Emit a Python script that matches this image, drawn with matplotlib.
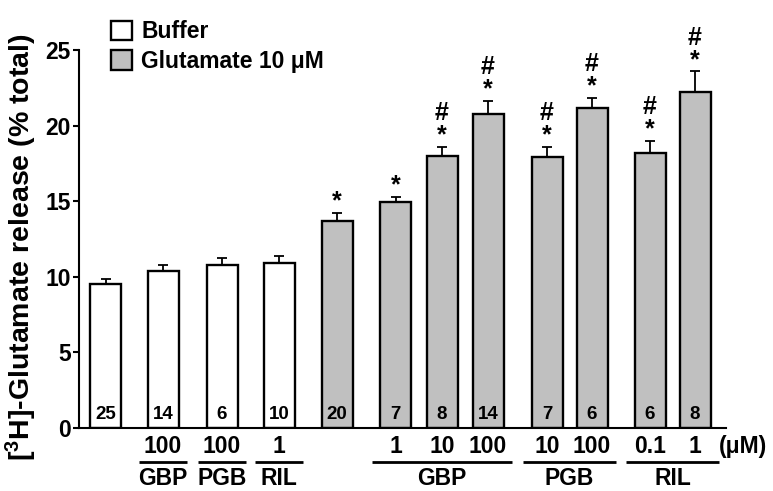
import matplotlib
matplotlib.use("Agg")
import matplotlib.pyplot as plt
from matplotlib.patches import Patch
import numpy as np

plt.rcParams['font.family'] = ['Liberation Sans', 'DejaVu Sans']
plt.rcParams['font.weight'] = 'bold'
plt.rcParams['mathtext.fontset'] = 'custom'
plt.rcParams['mathtext.rm'] = 'Liberation Sans:bold'
plt.rcParams['mathtext.bf'] = 'Liberation Sans:bold'

# ---- data ----
means = [9.55, 10.4, 10.8, 10.9, 13.7, 14.95, 18.0, 20.8, 17.95, 21.15, 18.2, 22.2]
sems = [0.3, 0.4, 0.45, 0.5, 0.55, 0.35, 0.6, 0.85, 0.65, 0.7, 0.8, 1.4]
counts = [25, 14, 6, 10, 20, 7, 8, 14, 7, 6, 6, 8]
glutamate = [False, False, False, False, True, True, True, True, True, True, True, True]
star = [False, False, False, False, True, True, True, True, True, True, True, True]
hash_mark = [False, False, False, False, False, False, True, True, True, True, True, True]
conc_labels = ['', '100', '100', '1', '', '1', '10', '100', '10', '100', '0.1', '1']
drug_groups = [('GBP', [1]), ('PGB', [2]), ('RIL', [3]),
               ('GBP', [5, 6, 7]), ('PGB', [8, 9]), ('RIL', [10, 11])]
legend_labels = ['Buffer', 'Glutamate 10 μM']
ylabel = r'[$\mathbf{^3}$H]-Glutamate release (% total)'
yticks = [0, 5, 10, 15, 20, 25]

# ---- layout (pixel-like x units) ----
xpos = np.array([105.5, 163, 222, 279, 337, 395.5, 442, 488, 547, 592, 650, 695])
bar_w = 31
W, H = 773, 491
fig = plt.figure(figsize=(W / 100, H / 100), dpi=100)
ax = fig.add_axes([79 / W, 63 / H, (726 - 79) / W, (428 - 50) / H])
ax.set_xlim(79, 726)
ax.set_ylim(0, 25)

colors = ['#c0c0c0' if g else 'white' for g in glutamate]
ax.errorbar(xpos, means, yerr=[np.zeros(len(sems)), sems], fmt='none',
            ecolor='black', elinewidth=1.3, capsize=3.5, capthick=1.3, zorder=1)
ax.bar(xpos, means, width=bar_w, color=colors, edgecolor='black',
       linewidth=1.7, zorder=2)

for i, (x, m, s) in enumerate(zip(xpos, means, sems)):
    top = m + s
    if star[i]:
        ax.annotate('*', (x, top), xytext=(0, 8), textcoords='offset points',
                    ha='center', va='center', fontsize=18, fontweight='bold')
    if hash_mark[i]:
        ax.annotate('#', (x, top), xytext=(0, 24), textcoords='offset points',
                    ha='center', va='center', fontsize=18, fontweight='bold')
    ax.annotate(str(counts[i]), (x, 0), xytext=(0, 9.5), textcoords='offset points',
                ha='center', va='center', fontsize=13.5, fontweight='bold')

# bottom labels
tr = ax.get_xaxis_transform()
y_conc = (428 - 446.7) / 378
y_line = (428 - 461.7) / 378
y_grp = (428 - 478.5) / 378
for x, lab in zip(xpos, conc_labels):
    if lab:
        ax.text(x, y_conc, lab, transform=tr, ha='center', va='center',
                fontsize=16.5, fontweight='bold')
ax.text(743, y_conc, '(μM)', transform=tr, ha='center', va='center',
        fontsize=16.5, fontweight='bold')
for name, idx in drug_groups:
    x0 = xpos[idx[0]] - bar_w / 2 - 8.5
    x1 = xpos[idx[-1]] + bar_w / 2 + 8.5
    ax.plot([x0, x1], [y_line, y_line], transform=tr, color='black',
            lw=2.0, clip_on=False, solid_capstyle='butt')
    ax.text((x0 + x1) / 2, y_grp, name, transform=tr, ha='center', va='center',
            fontsize=16.5, fontweight='bold')

# axes styling
for sp in ['top', 'right']:
    ax.spines[sp].set_visible(False)
ax.spines['left'].set_linewidth(1.5)
ax.spines['bottom'].set_linewidth(1.5)
ax.set_xticks([])
ax.set_yticks(yticks)
ax.tick_params(axis='y', direction='out', length=4, width=1.5, labelsize=16.5, pad=2)
for t in ax.get_yticklabels():
    t.set_fontweight('bold')
ax.set_ylabel(ylabel, fontsize=20.5, fontweight='bold')
ax.yaxis.set_label_coords(-0.062, 0.478)

handles = [Patch(facecolor='white', edgecolor='black', linewidth=1.7),
           Patch(facecolor='#c0c0c0', edgecolor='black', linewidth=1.7)]
leg = ax.legend(handles, legend_labels, loc='upper left',
                bbox_to_anchor=(102 / W, 1 - 11 / H), bbox_transform=fig.transFigure,
                frameon=False, handlelength=0.92, handleheight=0.92,
                handletextpad=0.4, labelspacing=0.3,
                prop={'size': 16.5, 'weight': 'bold'}, borderaxespad=0)

fig.savefig('out.png', dpi=100)
